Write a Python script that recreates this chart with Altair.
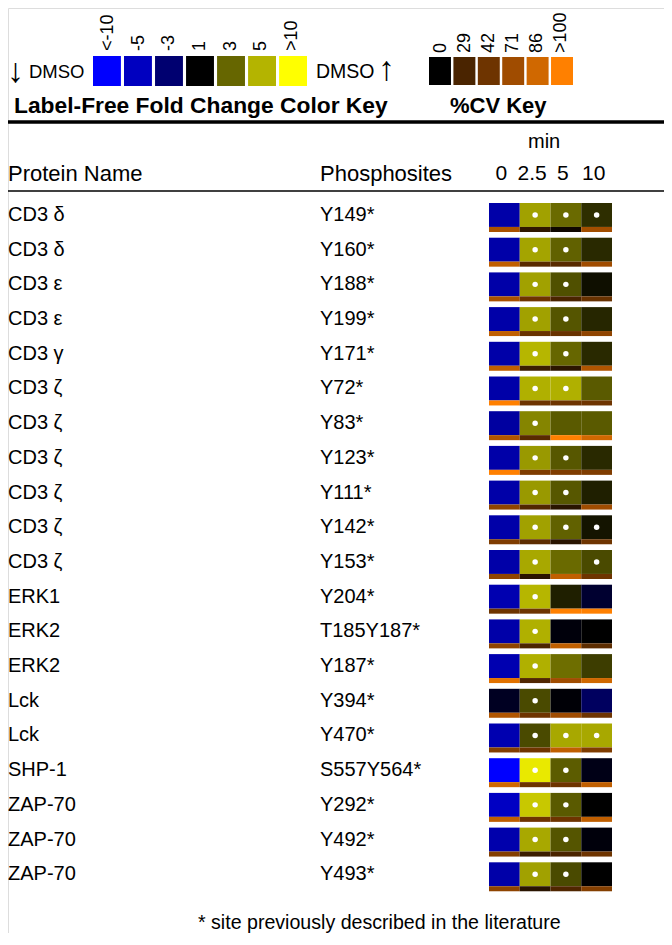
import altair as alt
import pandas as pd

# ---------------- data ----------------
proteins = ["CD3 δ", "CD3 δ", "CD3 ε", "CD3 ε", "CD3 γ", "CD3 ζ", "CD3 ζ", "CD3 ζ",
            "CD3 ζ", "CD3 ζ", "CD3 ζ", "ERK1", "ERK2", "ERK2", "Lck", "Lck",
            "SHP-1", "ZAP-70", "ZAP-70", "ZAP-70"]
sites = ["Y149*", "Y160*", "Y188*", "Y199*", "Y171*", "Y72*", "Y83*", "Y123*",
         "Y111*", "Y142*", "Y153*", "Y204*", "T185Y187*", "Y187*", "Y394*", "Y470*",
         "S557Y564*", "Y292*", "Y492*", "Y493*"]
times = ["0", "2.5", "5", "10"]

# signed fold change vs DMSO (negative = fold decrease)
fold_t0 = [-4.4, -4.4, -4.4, -4.4, -4.4, -4.4, -4.2, -4.4, -4.4, -4.4,
           -4.4, -4.6, -4.4, -4.6, -1.6, -4.6, -10, -5.2, -4.5, -4.4]
fold_t2_5 = [4.5, 4.6, 4.5, 4.5, 5.1, 4.9, 3.8, 4.3, 4.3, 4.5,
             4.7, 5.1, 4.9, 4.9, 2.45, 2.45, 8.5, 6.3, 4.7, 4.5]
fold_t5 = [3.1, 2.9, 2.57, 2.67, 3.0, 4.9, 2.76, 2.7, 2.7, 2.9,
           3.1, 1.6, -1.2, 3.2, -1.1, 4.7, 2.8, 2.76, 2.67, 2.45]
fold_t10 = [1.9, 1.8, 1.3, 1.75, 1.8, 2.76, 2.76, 1.8, 1.6, 1.4,
            2.45, -1.86, 1.0, 2.2, -2.7, 4.7, -1.4, 1.0, -1.2, 1.0]

# %CV of each measurement
cv_t0 = [74, 81, 74, 81, 81, 100, 76, 100, 61, 52, 61, 42, 61, 91, 76, 55, 86, 81, 55, 61]
cv_t2_5 = [19, 34, 42, 40, 23, 42, 34, 52, 31, 36, 16, 42, 29, 31, 42, 42, 42, 42, 23, 16]
cv_t5 = [6, 34, 29, 40, 17, 42, 100, 52, 16, 16, 81, 100, 81, 71, 71, 81, 42, 42, 29, 31]
cv_t10 = [72, 71, 40, 61, 76, 42, 86, 52, 71, 42, 42, 100, 36, 86, 42, 52, 81, 81, 42, 55]

# white dot = significant change
sig_t0 = [0] * 20
sig_t2_5 = [1] * 20
sig_t5 = [1, 1, 1, 1, 1, 1, 0, 1, 1, 1, 0, 0, 0, 0, 0, 1, 1, 1, 1, 1]
sig_t10 = [1, 0, 0, 0, 0, 0, 0, 0, 0, 1, 1, 0, 0, 0, 0, 1, 0, 0, 0, 0]

fold_key_labels = ["<-10", "-5", "-3", "1", "3", "5", ">10"]
fold_key_values = [-10, -5, -3, 1, 3, 5, 10]
fold_stops = [-10, -5, -3, -1, 1, 3, 5, 10]
fold_colors = ["#0000ff", "#0000c0", "#000070", "#000000", "#000000", "#666600", "#b4b400", "#ffff00"]

cv_key_labels = ["0", "29", "42", "71", "86", ">100"]
cv_key_values = [0, 29, 42, 71, 86, 100]
cv_colors = ["#000000", "#4a2400", "#6e3400", "#a04c00", "#d06800", "#ff8000"]

FONT = "Liberation Sans"

# ---------------- tables ----------------
folds = [fold_t0, fold_t2_5, fold_t5, fold_t10]
cvs = [cv_t0, cv_t2_5, cv_t5, cv_t10]
sigs = [sig_t0, sig_t2_5, sig_t5, sig_t10]
rows = []
for c, t in enumerate(times):
    for r in range(len(proteins)):
        rows.append({"row": r, "col": c, "time": t, "fold": folds[c][r],
                     "cv": cvs[c][r], "sig": sigs[c][r]})
cells = pd.DataFrame(rows)
labels = pd.DataFrame({"row": list(range(len(proteins))), "protein": proteins, "site": sites})
time_hdr = pd.DataFrame({"col": list(range(len(times))), "time": times})
fold_key = pd.DataFrame({"label": fold_key_labels, "value": fold_key_values})
cv_key = pd.DataFrame({"label": cv_key_labels, "value": cv_key_values})
one = pd.DataFrame({"a": [0]})

xs = alt.Scale(domain=[0, 4], range=[481, 604])
ys = alt.Scale(domain=[0, 20], range=[195, 889])
fold_scale = alt.Scale(domain=fold_stops, range=fold_colors, interpolate="rgb", clamp=True)
cv_scale = alt.Scale(domain=[0, 29, 42, 71, 86, 100], range=cv_colors, interpolate="rgb", clamp=True)

base = alt.Chart(cells).transform_calculate(
    c1="datum.col + 1", ytop="datum.row", ymid="datum.row + 0.69",
    ybot="datum.row + 0.835", cx="datum.col + 0.5", cy="datum.row + 0.345")

cell_rect = base.mark_rect().encode(
    x=alt.X("col:Q", scale=xs, axis=None), x2="c1:Q",
    y=alt.Y("ytop:Q", scale=ys, axis=None), y2="ymid:Q",
    fill=alt.Fill("fold:Q", scale=fold_scale, legend=None))

cv_rect = base.mark_rect().encode(
    x=alt.X("col:Q", scale=xs, axis=None), x2="c1:Q",
    y=alt.Y("ymid:Q", scale=ys, axis=None), y2="ybot:Q",
    fill=alt.Fill("cv:Q", scale=cv_scale, legend=None))

dots = base.transform_filter("datum.sig == 1").mark_point(
    filled=True, shape="circle", size=30, color="white", opacity=1).encode(
    x=alt.X("cx:Q", scale=xs, axis=None),
    y=alt.Y("cy:Q", scale=ys, axis=None))

lab_base = alt.Chart(labels).transform_calculate(cy="datum.row + 0.345")
prot_text = lab_base.mark_text(align="left", baseline="middle", font=FONT, fontSize=20, color="black").encode(
    x=alt.value(0), y=alt.Y("cy:Q", scale=ys, axis=None), text="protein:N")
site_text = lab_base.mark_text(align="left", baseline="middle", font=FONT, fontSize=20, color="black").encode(
    x=alt.value(312), y=alt.Y("cy:Q", scale=ys, axis=None), text="site:N")

hdr = alt.Chart(time_hdr).transform_calculate(cx="datum.col + 0.5").mark_text(
    align="center", baseline="middle", font=FONT, fontSize=21, color="black", dx=-3).encode(
    x=alt.X("cx:Q", scale=xs, axis=None), y=alt.value(166), text="time:N")

fk_x = alt.Scale(domain=fold_key_labels, range=[85, 299], paddingInner=0.1, paddingOuter=0)
fk_sq = alt.Chart(fold_key).mark_rect().encode(
    x=alt.X("label:N", scale=fk_x, axis=None, sort=None),
    y=alt.value(48), y2=alt.value(78),
    fill=alt.Fill("value:Q", scale=fold_scale, legend=None))
fk_lab = alt.Chart(fold_key).mark_text(angle=270, align="left", baseline="middle",
                                       font=FONT, fontSize=18, color="black").encode(
    x=alt.X("label:N", scale=fk_x, axis=None, sort=None), y=alt.value(43), text="label:N")

ck_x = alt.Scale(domain=cv_key_labels, range=[421, 565], paddingInner=0.1, paddingOuter=0)
ck_sq = alt.Chart(cv_key).mark_rect().encode(
    x=alt.X("label:N", scale=ck_x, axis=None, sort=None),
    y=alt.value(49), y2=alt.value(77),
    fill=alt.Fill("value:Q", scale=cv_scale, legend=None))
ck_lab = alt.Chart(cv_key).mark_text(angle=270, align="left", baseline="middle",
                                     font=FONT, fontSize=18, color="black").encode(
    x=alt.X("label:N", scale=ck_x, axis=None, sort=None), y=alt.value(45), text="label:N")


def static(txt, x, y, size, weight="normal", align="left"):
    return alt.Chart(one).mark_text(text=txt, align=align, baseline="middle", font=FONT,
                                    fontSize=size, fontWeight=weight, color="black").encode(
        x=alt.value(x), y=alt.value(y))


texts = [
    static("↓", -1, 64, 34),
    static("DMSO", 21, 64, 18.5),
    static("DMSO", 308, 64, 19.5),
    static("↑", 370, 62, 34),
    static("Label-Free Fold Change Color Key", 6, 98, 22.8, "bold"),
    static("%CV Key", 442, 98, 22, "bold"),
    static("min", 520, 134, 20),
    static("Protein Name", 0, 166, 22),
    static("Phosphosites", 312, 166, 22),
    static("* site previously described in the literature", 190, 915, 19.6),
]

thick = alt.Chart(one).mark_rule(color="black", strokeWidth=3.5).encode(
    x=alt.value(0), x2=alt.value(659), y=alt.value(114))
thin = alt.Chart(one).mark_rule(color="black", strokeWidth=1.5).encode(
    x=alt.value(0), x2=alt.value(659), y=alt.value(183))

chart = alt.layer(
    cell_rect, cv_rect, dots, prot_text, site_text, hdr, fk_sq, fk_lab, ck_sq, ck_lab,
    *texts, thick, thin
).resolve_scale(x="independent", y="independent", fill="independent").properties(
    width=656, height=925, autosize=alt.AutoSizeParams(type="none"), padding=0
).configure_view(stroke="transparent", strokeWidth=0).configure(background="white")

chart.save("out.html", embed_options={"renderer": "svg", "actions": False})
